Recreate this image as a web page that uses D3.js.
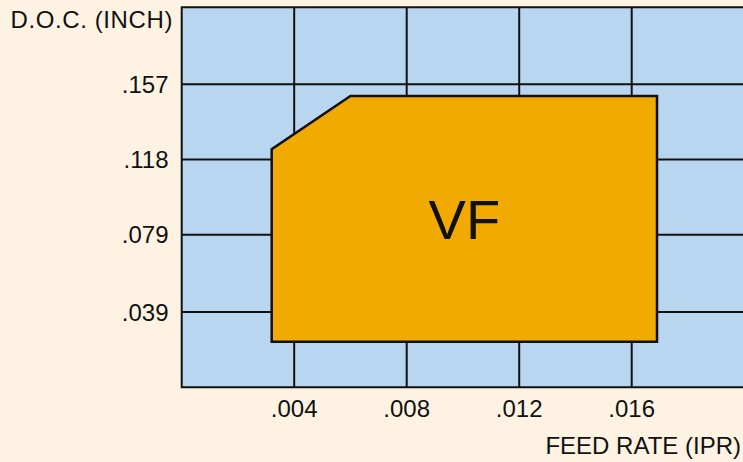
<!DOCTYPE html>
<html>
<head>
<meta charset="utf-8">
<script src="https://cdn.jsdelivr.net/npm/d3@7"></script>
<style>
  html, body { margin: 0; padding: 0; background: #fef3e2; }
  svg { display: block; }
  text { font-family: "Liberation Sans", Arial, Helvetica, sans-serif; fill: #111; }
</style>
</head>
<body>
<svg id="chart" width="743" height="462"></svg>
<script>
// tick values (inch), as printed
const feedTicks = [0.004, 0.008, 0.012, 0.016];
const docTicks = [0.039, 0.079, 0.118, 0.157];
const feedTickLabels = ['.004', '.008', '.012', '.016'];
const docTickLabels = ['.039', '.079', '.118', '.157'];

// VF zone outline
const zoneFeed = [0.0032, 0.0032, 0.0060, 0.0169, 0.0169];
const zoneDoc = [0.0236, 0.1233, 0.1509, 0.1509, 0.0236];
const zoneLabel = 'VF';

const xTitle = 'FEED RATE (IPR)';
const yTitle = 'D.O.C. (INCH)';

let W = 743, H = 462;
let plotLeft = 181.7, plotTop = 7.3, plotBottom = 387.3;

let svg = d3.select('#chart');

let x = d3.scaleLinear()
    .domain([0, 0.02])
    .range([plotLeft, plotLeft + 5 * 112.5]);

let y = d3.scaleLinear()
    .domain([0, 0.19685])
    .range([plotBottom, plotTop]);

svg.append('rect')
    .attr('width', W).attr('height', H)
    .attr('fill', '#fef3e2');

// plot background
svg.append('rect')
    .attr('x', plotLeft).attr('y', plotTop)
    .attr('width', W - plotLeft + 2).attr('height', plotBottom - plotTop)
    .attr('fill', '#b9d6f1');

// grid
let grid = svg.append('g').attr('class', 'grid')
    .attr('stroke', '#111').attr('stroke-width', 2);

grid.selectAll('line.v')
    .data(feedTicks).enter()
    .append('line')
    .attr('class', 'v')
    .attr('x1', d => x(d)).attr('x2', d => x(d))
    .attr('y1', plotTop).attr('y2', plotBottom);

grid.selectAll('line.h')
    .data(docTicks).enter()
    .append('line')
    .attr('class', 'h')
    .attr('x1', plotLeft).attr('x2', W + 2)
    .attr('y1', d => y(d)).attr('y2', d => y(d));

// frame: top, left, bottom
grid.append('path')
    .attr('fill', 'none')
    .attr('d', 'M' + (W + 2) + ',' + plotTop + 'H' + plotLeft + 'V' + plotBottom + 'H' + (W + 2));

// VF zone
let pts = zoneFeed.map((f, i) => [x(f), y(zoneDoc[i])]);

svg.append('path')
    .datum(pts)
    .attr('d', d3.line().curve(d3.curveLinearClosed))
    .attr('fill', '#f0aa00')
    .attr('stroke', '#111')
    .attr('stroke-width', 2.5)
    .attr('stroke-linejoin', 'miter');

let cx = (x(d3.min(zoneFeed)) + x(d3.max(zoneFeed))) / 2,
    cy = (y(d3.min(zoneDoc)) + y(d3.max(zoneDoc))) / 2;

svg.append('text')
    .attr('x', cx).attr('y', cy)
    .attr('dy', '0.36em')
    .attr('text-anchor', 'middle')
    .style('font-size', '56px')
    .text(zoneLabel);

// axis labels
svg.append('g')
    .selectAll('text')
    .data(feedTicks).enter()
    .append('text')
    .attr('x', d => x(d))
    .attr('y', 417)
    .attr('text-anchor', 'middle')
    .style('font-size', '24px')
    .text((d, i) => feedTickLabels[i]);

svg.append('g')
    .selectAll('text')
    .data(docTicks).enter()
    .append('text')
    .attr('x', 168.5)
    .attr('y', d => y(d))
    .attr('dy', '0.36em')
    .attr('text-anchor', 'end')
    .style('font-size', '24px')
    .text((d, i) => docTickLabels[i]);

svg.append('text')
    .attr('x', 173).attr('y', 28)
    .attr('text-anchor', 'end')
    .style('font-size', '24px')
    .style('letter-spacing', '0.6px')
    .text(yTitle);

svg.append('text')
    .attr('x', 741).attr('y', 454)
    .attr('text-anchor', 'end')
    .style('font-size', '24px')
    .text(xTitle);
</script>
</body>
</html>
